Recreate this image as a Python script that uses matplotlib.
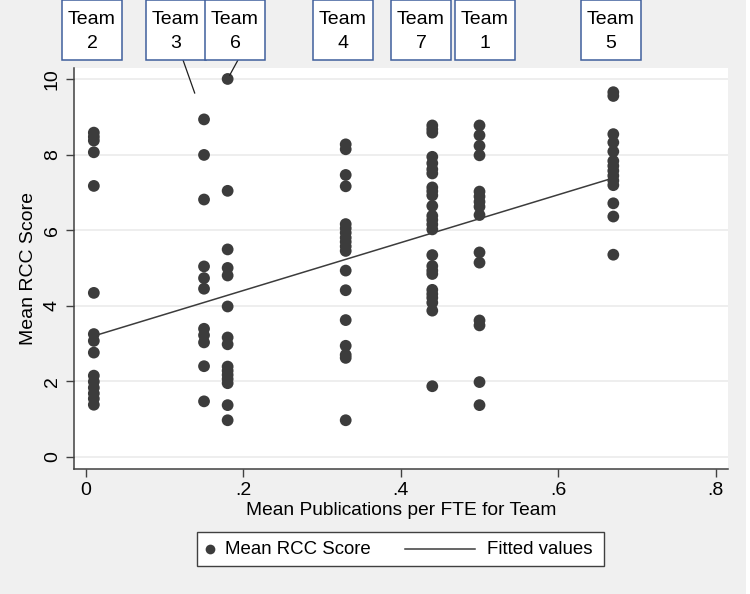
import numpy as np
import matplotlib
matplotlib.use("Agg")
import matplotlib.pyplot as plt
from matplotlib.lines import Line2D
from matplotlib.patches import Rectangle

# ---- data ----
team_names = ["2", "3", "6", "4", "7", "1", "5"]
team_x = [0.01, 0.15, 0.18, 0.33, 0.44, 0.50, 0.67]

scores_team2 = [8.58, 8.47, 8.37, 8.06, 7.17, 4.34, 3.25, 3.07, 2.76, 2.15, 1.99, 1.83, 1.68, 1.54, 1.38]
scores_team3 = [8.93, 7.99, 6.81, 5.04, 4.73, 4.45, 3.39, 3.22, 3.03, 2.40, 1.47]
scores_team6 = [10.0, 7.04, 5.49, 5.00, 4.80, 3.98, 3.16, 2.98, 2.39, 2.28, 2.17, 2.06, 1.95, 1.37, 0.97]
scores_team4 = [8.27, 8.14, 7.46, 7.16, 6.16, 6.05, 5.93, 5.80, 5.69, 5.57, 5.45, 4.93, 4.41, 3.62, 2.94, 2.70, 2.62, 0.97]
scores_team7 = [8.77, 8.67, 8.58, 7.94, 7.77, 7.61, 7.50, 7.13, 7.03, 6.92, 6.64, 6.38, 6.27, 6.15, 6.02,
                5.34, 5.05, 4.93, 4.84, 4.42, 4.31, 4.21, 4.08, 3.87, 1.87]
scores_team1 = [8.77, 8.51, 8.23, 7.98, 7.02, 6.89, 6.75, 6.62, 6.40, 5.41, 5.14, 3.61, 3.48, 1.98, 1.37]
scores_team5 = [9.65, 9.55, 8.54, 8.32, 8.08, 7.83, 7.70, 7.57, 7.44, 7.31, 7.19, 6.71, 6.36, 5.35]

team_scores = [scores_team2, scores_team3, scores_team6, scores_team4,
               scores_team7, scores_team1, scores_team5]

# fitted values at the ends of the x range
fit_x = [0.01, 0.67]
fit_y = [3.20, 7.38]

y_ticks = [0, 2, 4, 6, 8, 10]
y_ticklabels = ["0", "2", "4", "6", "8", "10"]
x_ticks = [0, 0.2, 0.4, 0.6, 0.8]
x_ticklabels = ["0", ".2", ".4", ".6", ".8"]
legend_labels = ["Mean RCC Score", "Fitted values"]

# ---- style ----
plt.rcParams['font.family'] = ['Liberation Sans', 'DejaVu Sans']
FS = 14
BG = '#f0f0f0'
DOT = '#3c3c3c'
BOXC = '#3f5f9c'

W, H = 750, 594
fig = plt.figure(figsize=(W / 100, H / 100), dpi=100, facecolor=BG)
fig.add_artist(Rectangle((746 / W, 0), 4 / W, 1, transform=fig.transFigure,
                         facecolor='white', edgecolor='none', zorder=0))
L, R, T, B = 74, 728, 68, 469
ax = fig.add_axes([L / W, 1 - B / H, (R - L) / W, (B - T) / H])
ax.set_facecolor('white')

xs = np.concatenate([[x] * len(s) for x, s in zip(team_x, team_scores)])
ys = np.concatenate(team_scores)

ax.scatter(xs, ys, s=72, color=DOT, edgecolors='none', zorder=3)
ax.plot(fit_x, fit_y, color=DOT, lw=1.1, zorder=4)

ax.set_xlim(-0.0152, 0.8157)
ax.set_ylim(-0.32, 10.29)
ax.set_yticks(y_ticks)
ax.set_yticklabels(y_ticklabels, rotation=90, va='center', fontsize=FS)
ax.set_xticks(x_ticks)
ax.set_xticklabels(x_ticklabels, fontsize=FS)
ax.tick_params(axis='both', length=5.5, width=1, color='#404040', pad=4)
ax.grid(axis='y', color='#ebebeb', lw=1.2)
ax.set_axisbelow(True)
for sp in ['top', 'right']:
    ax.spines[sp].set_visible(False)
for sp in ['left', 'bottom']:
    ax.spines[sp].set_color('#404040')
    ax.spines[sp].set_linewidth(1.1)

ax.set_xlabel("Mean Publications per FTE for Team", fontsize=13.8, labelpad=2)
ax.set_ylabel("Mean RCC Score", fontsize=FS, labelpad=5)

# ---- team label boxes (Stata-style marker labels) ----
box_cx = [92, 175.5, 235, 343, 421, 485, 611]   # pixel centers
box_w, box_h = 60, 60
for name, bx in zip(team_names, box_cx):
    rect = Rectangle(((bx - box_w / 2) / W, 1 - box_h / H), box_w / W, box_h / H,
                     transform=fig.transFigure, facecolor='white', edgecolor=BOXC,
                     lw=1.1, zorder=5)
    fig.add_artist(rect)
    fig.text(bx / W, 1 - 19 / H, "Team", ha='center', va='center', fontsize=FS, zorder=6)
    fig.text(bx / W, 1 - 43 / H, name, ha='center', va='center', fontsize=FS, zorder=6)

# leader lines for the offset labels (Team 3 and Team 6)
ax.annotate("", xy=(team_x[1], max(scores_team3)), xycoords='data',
            xytext=(183 / W, 1 - 60 / H), textcoords='figure fraction',
            arrowprops=dict(arrowstyle='-', color='#202020', lw=0.9,
                            shrinkA=0, shrinkB=20), annotation_clip=False)
ax.annotate("", xy=(team_x[2], max(scores_team6)), xycoords='data',
            xytext=(238 / W, 1 - 60 / H), textcoords='figure fraction',
            arrowprops=dict(arrowstyle='-', color='#202020', lw=0.9,
                            shrinkA=0, shrinkB=3), annotation_clip=False)

# ---- legend (drawn manually to match Stata layout) ----
def fx(p):
    return p / W

def fy(p):
    return 1 - p / H

LFS = 13.4
fig.add_artist(Rectangle((fx(197), fy(566)), (604 - 197) / W, (566 - 532) / H,
                         transform=fig.transFigure, facecolor='white',
                         edgecolor='#404040', lw=1.0, zorder=5))
fig.add_artist(Line2D([fx(210)], [fy(549)], marker='o', ls='none', color=DOT,
                      markersize=7, markeredgewidth=0, transform=fig.transFigure, zorder=6))
fig.text(fx(225), fy(549), legend_labels[0], ha='left', va='center', fontsize=LFS, zorder=6)
fig.add_artist(Line2D([fx(405), fx(475)], [fy(549), fy(549)], color=DOT, lw=1.1,
                      transform=fig.transFigure, zorder=6))
fig.text(fx(487), fy(549), legend_labels[1], ha='left', va='center', fontsize=LFS, zorder=6)

fig.savefig("out.png", dpi=100, facecolor=BG)
